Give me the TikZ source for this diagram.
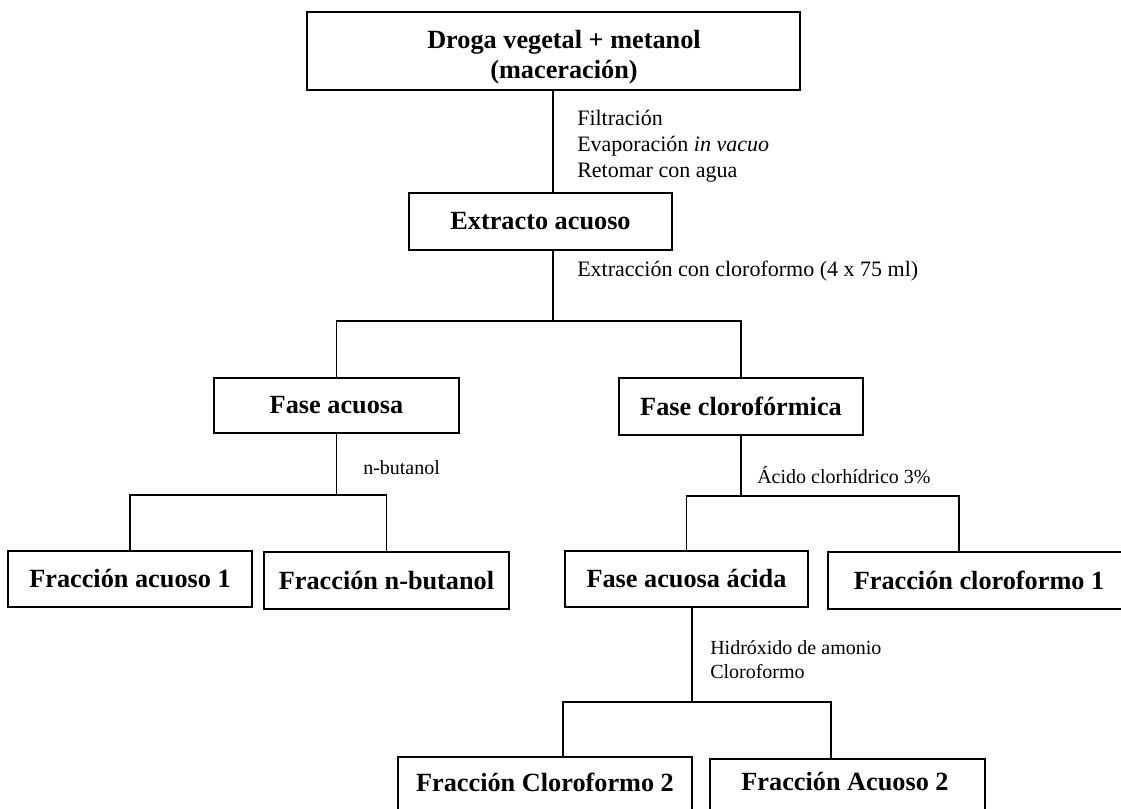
\documentclass[tikz,border=0pt]{standalone}
\usepackage{fontspec}
\setmainfont{Liberation Serif}
\begin{document}
\begin{tikzpicture}[x=0.75pt,y=-0.75pt,
  box/.style={draw, line width=1.3pt, rectangle, inner sep=0pt},
  btxt/.style={font=\fontsize{19.7}{22.5}\selectfont\bfseries, inner sep=0pt, align=center},
  lbl/.style={font=\fontsize{16.5}{19.5}\selectfont, inner sep=0pt, anchor=west, align=left},
  slbl/.style={font=\fontsize{15}{18}\selectfont, inner sep=0pt, anchor=west, align=left},
  conn/.style={line width=1.3pt}]
\clip (0,0) rectangle (1121,809);
\useasboundingbox (0,0) rectangle (1121,809);

% boxes
\node[box, minimum width=369.75pt, minimum height=58.5pt] (top) at (553.5,51) {};
\node[btxt] (toptxt) at (564,57) {Droga vegetal + metanol\\(maceración)};

\node[box, btxt, minimum width=197.25pt, minimum height=42.75pt] (ext) at (540.5,221.5) {Extracto acuoso};

\node[box, btxt, minimum width=183.75pt, minimum height=41.25pt] (fa) at (336.5,405.5) {Fase acuosa};
\node[box, btxt, minimum width=183pt, minimum height=42.75pt] (fc) at (741,406.5) {Fase clorofórmica};

\node[box, btxt, minimum width=183pt, minimum height=42pt] (fa1) at (130,579) {Fracción acuoso 1};
\node[box, btxt, minimum width=183.75pt, minimum height=42.75pt] (fnb) at (386.5,580.5) {Fracción n-butanol};

\node[box, btxt, minimum width=182.25pt, minimum height=42pt] (faa) at (686.5,579) {Fase acuosa ácida};
\node[box, minimum width=230.25pt, minimum height=42.75pt] (fc1) at (981.5,580.5) {};
\node[btxt] (fc1txt) at (979,580.5) {Fracción cloroformo 1};

\node[box, minimum width=220.5pt, minimum height=47.25pt] (fc2) at (545,788.5) {};
\node[btxt] (fc2txt) at (545,782) {Fracción Cloroformo 2};
\node[box, minimum width=206.25pt, minimum height=45.75pt] (fa2) at (847.5,789.5) {};
\node[btxt] (fa2txt) at (845,782) {Fracción Acuoso 2};

% labels
\node[lbl] (l1) at (577,146) {Filtración\\Evaporación \textit{in vacuo}\\Retomar con agua};
\node[lbl] (l2) at (577,271) {Extracción con cloroformo (4 x 75 ml)};
\node[slbl] (l3) at (363,468) {n-butanol};
\node[slbl] (l4) at (757,475) {Ácido clorhídrico 3\%};
\node[slbl] (l5) at (710,660) {Hidróxido de amonio\\Cloroformo};

% junction coordinates
\coordinate (j0) at (553,321);
\coordinate (j2) at (336,495);
\coordinate (j3) at (740,496);
\coordinate (k1) at (959,496);
\coordinate (j4) at (692,702);
\coordinate (k2) at (563,702);
\coordinate (k3) at (831,702);

% connectors
\draw[conn] (top.south -| j0) -- (ext.north -| j0);
\draw[conn] (ext.south -| j0) -- (j0);
\draw[conn] (fa.north) |- (fc.north |- j0) -- (fc.north);

\draw[conn] (fa.south) -- (fa.south |- j2);
\draw[conn] (fa1.north) |- (fnb.north |- j2) -- (fnb.north);

\draw[conn] (fc.south) -- (fc.south |- j3);
\draw[conn] (faa.north) |- (k1) -- (k1 |- fc1.north);

\draw[conn] (faa.south -| j4) -- (j4);
\draw[conn] (k2 |- fc2.north) -- (k2) -- (k3) -- (k3 |- fa2.north);
\end{tikzpicture}
\end{document}
